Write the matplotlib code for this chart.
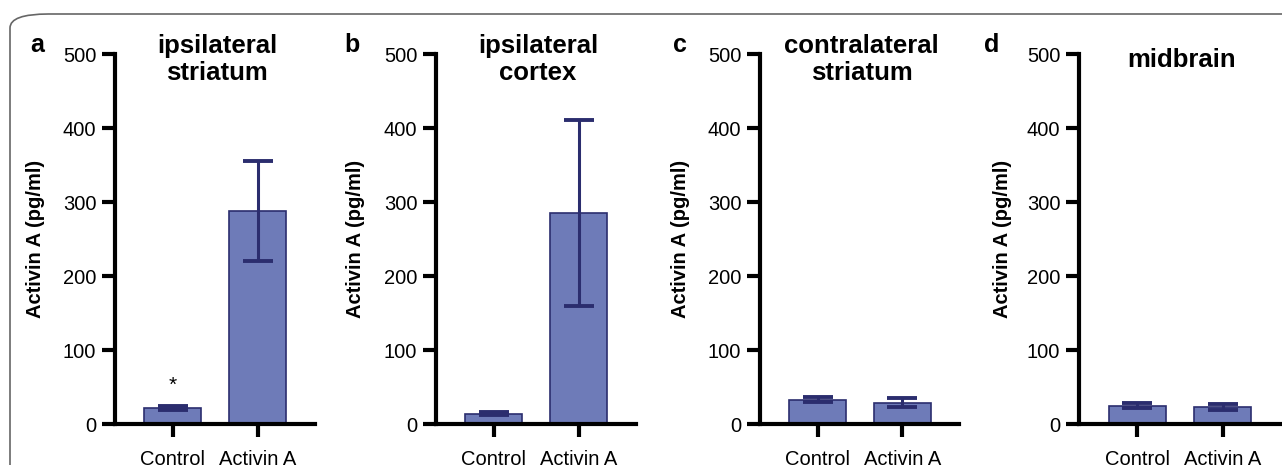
import matplotlib
matplotlib.use("Agg")
import matplotlib.pyplot as plt
from matplotlib.patches import FancyBboxPatch

plt.rcParams['font.family'] = ['Liberation Sans', 'DejaVu Sans']

groups = ['Control', 'Activin A']
panel_letters = ['a', 'b', 'c', 'd']
titles = ['ipsilateral\nstriatum', 'ipsilateral\ncortex', 'contralateral\nstriatum', 'midbrain']
means = [[22, 288], [14, 285], [33, 29], [25, 23]]
errors = [[3, 68], [2, 126], [3, 6], [3.5, 3.5]]
yticks = [0, 100, 200, 300, 400, 500]

bar_color = '#6e7bb8'
edge_color = '#2b2d6e'

W, H = 1282, 465
fig = plt.figure(figsize=(W / 100, H / 100), dpi=100)

# rounded frame around the whole figure
frame = FancyBboxPatch((10 / W, -0.2), 1.2, (H - 14) / H + 0.2,
                       boxstyle='round,pad=0,rounding_size=0.03',
                       transform=fig.transFigure, fill=False,
                       edgecolor='#666666', linewidth=1.2)
fig.patches.append(frame)

# axes pixel positions (left, right)
axes_px = [(115, 315), (436, 636), (760, 959), (1079, 1280)]
top_px, bot_px = 54, 424
letter_px = [37, 352, 680, 992]
ylab_px = [45, 365, 690, 1012]

for i in range(4):
    l, r = axes_px[i]
    ax = fig.add_axes([l / W, (H - bot_px) / H, (r - l) / W, (bot_px - top_px) / H])
    x = [0, 1]
    ax.bar(x, means[i], width=0.67, color=bar_color, edgecolor=edge_color, linewidth=1.2, zorder=2)
    ax.errorbar(x, means[i], yerr=errors[i], fmt='none', ecolor=edge_color,
                elinewidth=2.2, capsize=10.8, capthick=2.8, zorder=3)
    ax.set_xlim(-0.68, 1.67)
    ax.set_ylim(0, 500)
    ax.set_yticks(yticks)
    ax.set_xticks(x)
    ax.set_xticklabels(groups)
    for s in ['top', 'right']:
        ax.spines[s].set_visible(False)
    for s in ['left', 'bottom']:
        ax.spines[s].set_linewidth(3)
    ax.tick_params(axis='both', width=3, length=9.5, labelsize=14.5, pad=4)
    ax.tick_params(axis='x', pad=9)
    ax.set_ylabel('Activin A (pg/ml)', fontsize=14.5, fontweight='bold')
    ax.yaxis.set_label_coords((ylab_px[i] - l) / (r - l), 0.5)
    ax.text(0.51, 0.985, titles[i], transform=ax.transAxes, ha='center', va='center',
            fontsize=18.5, fontweight='bold', linespacing=1.12)
    fig.text(letter_px[i] / W, (H - 45) / H, panel_letters[i], ha='center', va='center',
             fontsize=18, fontweight='bold')
    if i == 0:
        ax.text(0, 52, '*', ha='center', va='center', fontsize=15)

fig.savefig('out.png', dpi=100)
